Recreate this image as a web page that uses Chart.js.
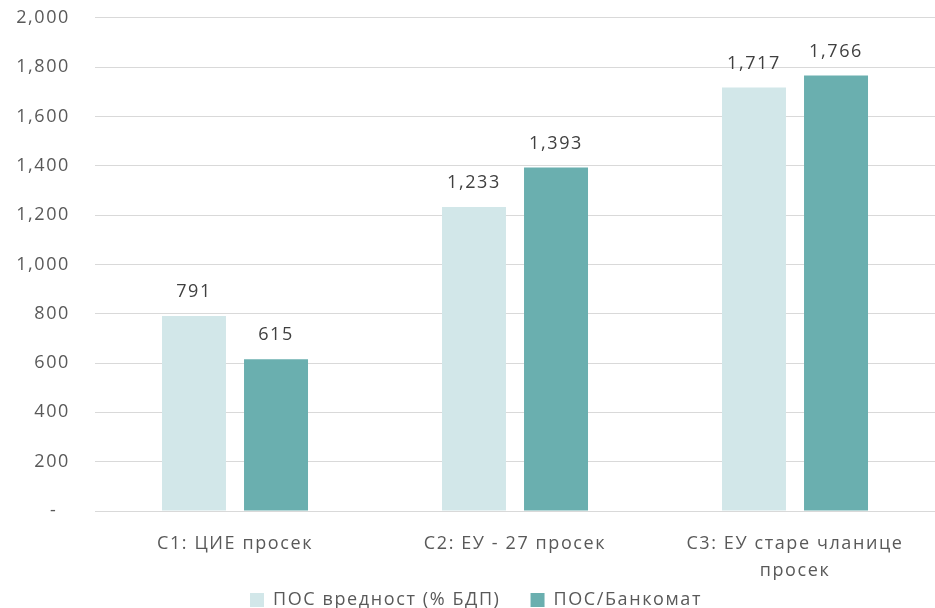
<!DOCTYPE html>
<html>
<head>
<meta charset="utf-8">
<script src="https://cdn.jsdelivr.net/npm/chart.js@4"></script>
<style>
  html, body { margin: 0; padding: 0; background: #fff; }
  #wrap { width: 935px; height: 608px; }
</style>
</head>
<body>
<div id="wrap"><canvas id="myChart" width="935" height="608"></canvas></div>
<script>
var categories = [['C1: ЦИЕ просек'], ['C2: ЕУ - 27 просек'], ['C3: ЕУ старе чланице', 'просек']];
var seriesNames = ['ПОС вредност (% БДП)', 'ПОС/Банкомат'];
var posValue = [791, 1233, 1717];
var posPerAtm = [615, 1393, 1766];
var tickStep = 200;
var yMax = 2000;

const fontFamily = '"Open Sans", "Noto Sans", sans-serif';
const textColor = '#595959';
const spacing = '1.6px';

// wider letter spacing, like the office-style original
const wideText = {
    id: 'wideText',
    beforeUpdate(chart) { chart.ctx.letterSpacing = spacing; },
    beforeDraw(chart) { chart.ctx.letterSpacing = spacing; },
    afterLayout(chart) {
        // let the two-line category label run under the legend instead of being clipped
        chart.scales.x.bottom = chart.height;
    }
};

// value labels above each bar
const barLabels = {
    id: 'barLabels',
    afterDatasetsDraw(chart) {
        const ctx = chart.ctx;
        ctx.save();
        ctx.font = '18px ' + fontFamily;
        ctx.fillStyle = '#404040';
        ctx.textAlign = 'center';
        ctx.textBaseline = 'middle';
        chart.data.datasets.forEach(function (ds, i) {
            chart.getDatasetMeta(i).data.forEach(function (bar, j) {
                ctx.fillText(ds.data[j].toLocaleString('en-US'), bar.x, bar.y - 24);
            });
        });
        ctx.restore();
    }
};

const ctx = document.getElementById('myChart');
new Chart(ctx, {
    type: 'bar',
    data: {
        labels: categories,
        datasets: [{
            label: seriesNames[0],
            data: posValue,
            backgroundColor: '#D2E7E9',
            categoryPercentage: 0.586,
            barPercentage: 0.78,
        }, {
            label: seriesNames[1],
            data: posPerAtm,
            backgroundColor: '#6AAFAF',
            categoryPercentage: 0.586,
            barPercentage: 0.78,
        }],
    },
    options: {
        responsive: false,
        animation: false,
        layout: { padding: { top: 0, right: 0, left: 17, bottom: -11 } },
        plugins: {
            legend: {
                position: 'bottom',
                labels: {
                    font: { family: fontFamily, size: 18 },
                    color: textColor,
                    boxWidth: 14,
                    boxHeight: 14,
                    padding: 30,
                },
            },
            tooltip: { enabled: false },
        },
        scales: {
            x: {
                grid: { display: false },
                border: { color: '#d9d9d9', width: 1 },
                afterFit: function (scale) { scale.height = 50; },
                ticks: {
                    font: { family: fontFamily, size: 18, lineHeight: 1.5 },
                    color: textColor,
                    padding: 11,
                    maxRotation: 0,
                },
            },
            y: {
                min: 0,
                max: yMax,
                border: { display: false },
                grid: { color: '#d9d9d9', drawTicks: true, tickLength: 18, tickColor: 'rgba(0,0,0,0)' },
                afterFit: function (scale) { scale.width = 78; },
                ticks: {
                    stepSize: tickStep,
                    padding: 7,
                    font: { family: fontFamily, size: 18 },
                    color: textColor,
                    callback: function (v) { return v === 0 ? '-  ' : v.toLocaleString('en-US'); },
                },
            },
        },
    },
    plugins: [wideText, barLabels],
});
</script>
</body>
</html>
